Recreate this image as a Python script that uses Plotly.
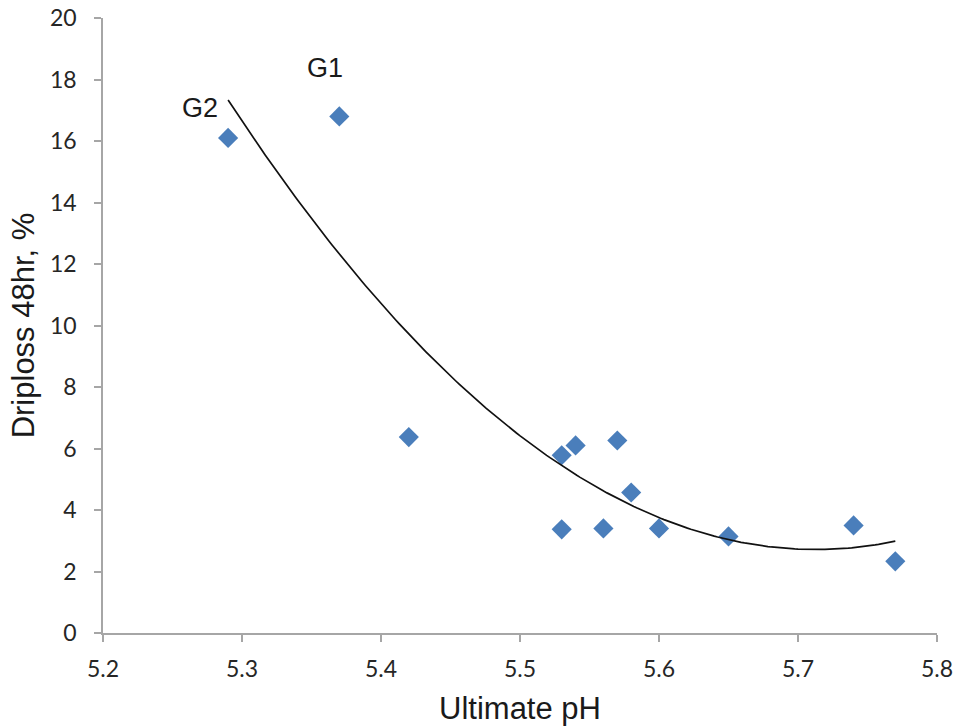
import numpy as np
import plotly.graph_objects as go

# Data
ph = [5.29, 5.37, 5.42, 5.53, 5.54, 5.57, 5.58, 5.53, 5.56, 5.60, 5.65, 5.74, 5.77]
driploss = [16.1, 16.8, 6.37, 5.78, 6.1, 6.26, 4.57, 3.37, 3.4, 3.4, 3.14, 3.5, 2.33]

label_names = ["G1", "G2"]
label_x = [5.36, 5.27]
label_y = [18.36, 17.06]

x_ticks = [5.2, 5.3, 5.4, 5.5, 5.6, 5.7, 5.8]
y_ticks = list(range(0, 21, 2))

# Polynomial (order 2) trendline fitted to the data, as in the original
coef = np.polyfit(ph, driploss, 2)
xs = np.linspace(min(ph), max(ph), 200)
ys = np.polyval(coef, xs)

fig = go.Figure()
fig.add_trace(go.Scatter(
    x=ph, y=driploss, mode="markers",
    marker=dict(symbol="diamond", size=15.5, color="#4A7EBB"),
    showlegend=False, hoverinfo="x+y"))
fig.add_trace(go.Scatter(
    x=xs, y=ys, mode="lines",
    line=dict(color="#111111", width=1.7),
    showlegend=False, hoverinfo="skip"))

for name, ax, ay in zip(label_names, label_x, label_y):
    fig.add_annotation(x=ax, y=ay, xref="x", yref="y", text=name,
                       showarrow=False,
                       font=dict(family="Liberation Sans, Arial", size=27, color="#1a1a1a"))

axis_common = dict(
    showgrid=False, zeroline=False, showline=True, linecolor="#A6A6A6",
    linewidth=1.5, ticks="outside", ticklen=7, tickwidth=1.5, tickcolor="#A6A6A6",
    automargin=False,
    tickfont=dict(family="Lato, Carlito, Calibri", size=23, color="#262626"),
)

fig.update_xaxes(range=[5.2, 5.8], tickvals=x_ticks,
                 ticktext=[f"{v:.1f}" for v in x_ticks],
                 ticklabelstandoff=8,
                 title=dict(text="Ultimate pH", standoff=16,
                            font=dict(family="Liberation Sans, Arial", size=31, color="#1a1a1a")),
                 **axis_common)
fig.update_yaxes(range=[0, 20], tickvals=y_ticks,
                 ticklabelstandoff=13,
                 title=dict(text="Driploss 48hr, %", standoff=6,
                            font=dict(family="Liberation Sans, Arial", size=31, color="#1a1a1a")),
                 **axis_common)

fig.update_layout(
    width=956, height=727,
    margin=dict(l=103, r=19, t=18, b=94),
    plot_bgcolor="white", paper_bgcolor="white",
)

fig.write_html("out.html")
